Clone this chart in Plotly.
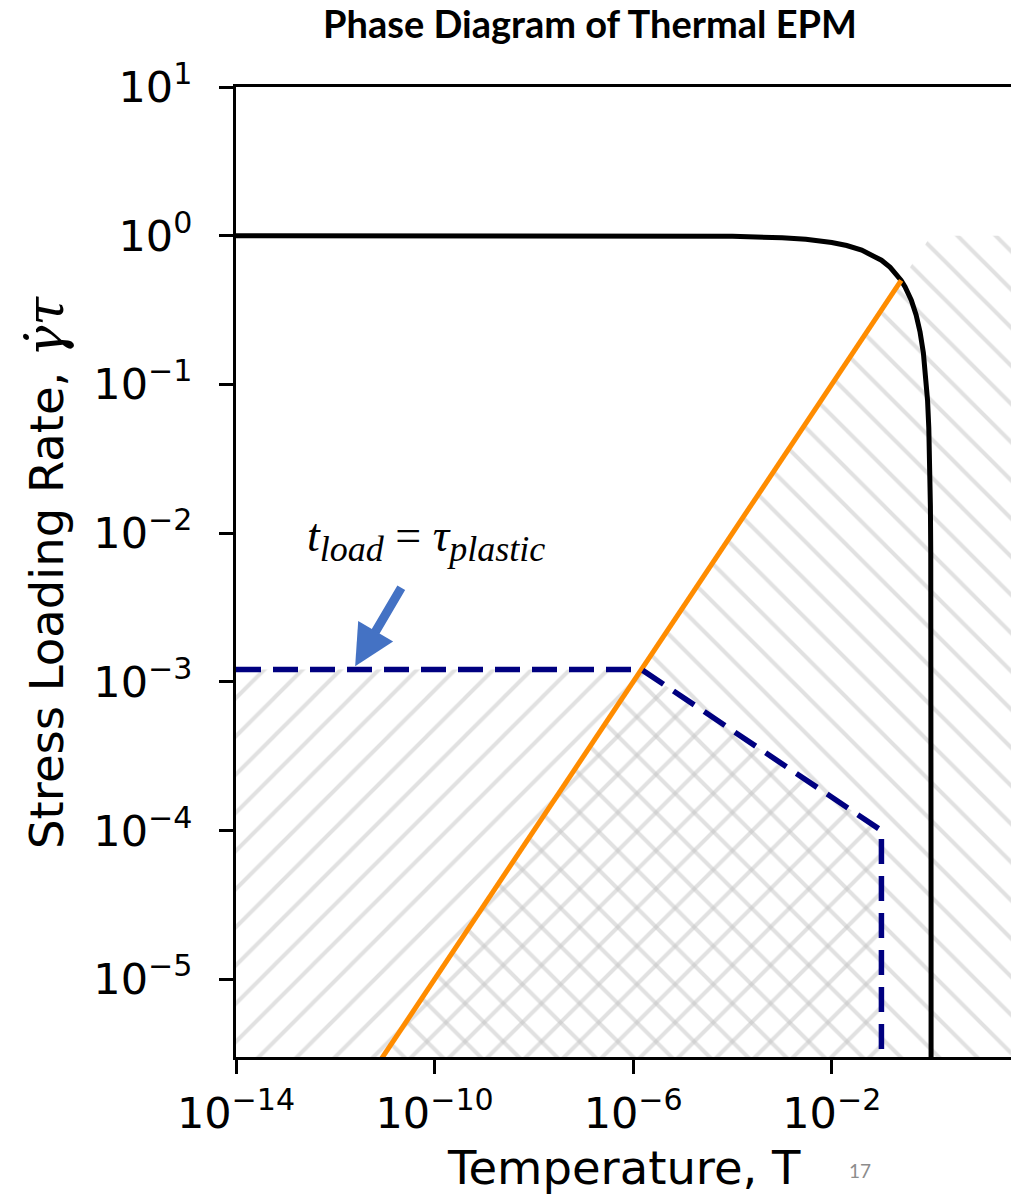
import plotly.graph_objects as go

# ---- data ----
# black boundary curve
T_curve = [1e-14, 1e-8, 1e-6, 1e-4, 1e-3, 3e-3, 1e-2, 2e-2, 4e-2, 7e-2, 0.1, 0.15, 0.2, 0.25,
           0.3, 0.4, 0.5, 0.6, 0.7, 0.8, 0.85, 0.9, 0.94, 0.97, 0.985, 0.993, 0.997,
           0.9985, 0.9995, 0.99985, 0.99995, 0.999996]
rate_curve = [1.0, 0.9999, 0.999, 0.99, 0.968, 0.945, 0.90, 0.859, 0.80, 0.735, 0.684, 0.613,
              0.553, 0.50, 0.452, 0.368, 0.293, 0.225, 0.163, 0.106, 0.078, 0.051, 0.0305,
              0.0151, 0.0075, 0.0035, 0.0015, 7.5e-4, 2.5e-4, 7.5e-5, 2.5e-5, 2e-6]

# orange line
T_orange = [4e-12, 0.25]
rate_orange = [2e-6, 0.5]

# dashed navy line  (t_load = tau_plastic)
T_dash = [1e-14, 1.47e-6, 0.1, 0.1]
rate_dash = [1.21e-3, 1.21e-3, 1e-4, 2e-6]

# hatched regions
T_right = [4e-12, 1.0, 100.0, 100.0, 4e-12]
rate_right = [2e-6, 1.0, 1.0, 2e-6, 2e-6]
T_left = [1e-14, 1.47e-6, 0.1, 0.1, 1e-14]
rate_left = [1.21e-3, 1.21e-3, 1e-4, 2e-6, 2e-6]

# ticks
x_tickvals = [1e-14, 1e-10, 1e-6, 1e-2]
x_ticktext = ["10<sup>\u221214</sup>", "10<sup>\u221210</sup>", "10<sup>\u22126</sup>", "10<sup>\u22122</sup>"]
y_tickvals = [1e1, 1e0, 1e-1, 1e-2, 1e-3, 1e-4, 1e-5]
y_ticktext = ["10<sup>1</sup>", "10<sup>0</sup>", "10<sup>\u22121</sup>", "10<sup>\u22122</sup>",
              "10<sup>\u22123</sup>", "10<sup>\u22124</sup>", "10<sup>\u22125</sup>"]

HATCH = "#c4c4c4"
FONT = "DejaVu Sans"

fig = go.Figure()

fig.add_trace(go.Scatter(
    x=T_right, y=rate_right, mode="lines", fill="toself", line=dict(width=0),
    fillcolor="rgba(0,0,0,0)", hoverinfo="skip", showlegend=False,
    fillpattern=dict(shape="\\", fgcolor=HATCH, bgcolor="rgba(0,0,0,0)", size=27,
                     solidity=0.15, fillmode="overlay")))
fig.add_trace(go.Scatter(
    x=T_left, y=rate_left, mode="lines", fill="toself", line=dict(width=0),
    fillcolor="rgba(0,0,0,0)", hoverinfo="skip", showlegend=False,
    fillpattern=dict(shape="/", fgcolor=HATCH, bgcolor="rgba(0,0,0,0)", size=27,
                     solidity=0.15, fillmode="overlay")))

fig.add_trace(go.Scatter(x=T_curve, y=rate_curve, mode="lines",
                         line=dict(color="black", width=5), showlegend=False))
fig.add_trace(go.Scatter(x=T_orange, y=rate_orange, mode="lines",
                         line=dict(color="#FF8C00", width=5), showlegend=False))
fig.add_trace(go.Scatter(x=T_dash, y=rate_dash, mode="lines",
                         line=dict(color="#000080", width=5.5, dash="25px,12px"), showlegend=False))

fig.update_xaxes(type="log", range=[-14, 1.61], tickvals=x_tickvals, ticktext=x_ticktext,
                 showgrid=False, zeroline=False, showline=True, linecolor="black", linewidth=3,
                 mirror=True, ticks="outside", ticklen=14, tickwidth=2.5, tickcolor="black",
                 tickfont=dict(family=FONT, size=43, color="black"), ticklabelstandoff=2)
fig.update_yaxes(type="log", range=[-5.523, 1.0], tickvals=y_tickvals, ticktext=y_ticktext,
                 showgrid=False, zeroline=False, showline=True, linecolor="black", linewidth=3,
                 mirror=False, ticks="outside", ticklen=14, tickwidth=2.5, tickcolor="black",
                 tickfont=dict(family=FONT, size=43, color="black"), ticklabelstandoff=18)

annotations = [
    dict(text="<b>Phase Diagram of Thermal EPM</b>", xref="paper", yref="paper",
         x=0.457, y=1.066, showarrow=False, xanchor="center", yanchor="middle",
         font=dict(family="Lato", size=38, color="black")),
    dict(text="Temperature, T", xref="paper", yref="paper", x=0.5, y=-0.1144,
         showarrow=False, xanchor="center", yanchor="middle",
         font=dict(family=FONT, size=46.5, color="black")),
    dict(text="Stress Loading Rate, <span style='font-family:DejaVu Serif;font-size:52px'><i>\u03b3\u0307\u03c4</i></span>",
         xref="paper", yref="paper", x=-0.2465, y=0.5, textangle=-90,
         showarrow=False, xanchor="center", yanchor="middle",
         font=dict(family=FONT, size=46.5, color="black")),
    dict(text="17", xref="paper", yref="paper", x=0.805, y=-0.1165, showarrow=False,
         xanchor="center", yanchor="middle", font=dict(family="Lato", size=19, color="#8c8c8c")),
    dict(text="<i>t</i><sub><i><span style='font-size:36px'>load</span></i></sub> = "
              "<i>\u03c4</i><sub><i><span style='font-size:36px'>plastic</span></i></sub>",
         xref="paper", yref="paper", x=0.245, y=0.534, showarrow=False,
         xanchor="center", yanchor="middle",
         font=dict(family="Liberation Serif", size=46, color="black")),
    dict(text="", xref="x", yref="y", x=-11.6, y=-2.895, ax=47, ay=-80,
         showarrow=True, arrowhead=2, arrowsize=0.9, arrowwidth=9, arrowcolor="#4472C4",
         standoff=0),
]

fig.update_layout(width=1011, height=1197, margin=dict(l=236, r=0, t=87, b=140),
                  plot_bgcolor="white", paper_bgcolor="white", annotations=annotations)

fig.write_html("out.html", config={"displayModeBar": False},
               post_script="document.body.style.margin='0';document.body.style.overflow='hidden';")
